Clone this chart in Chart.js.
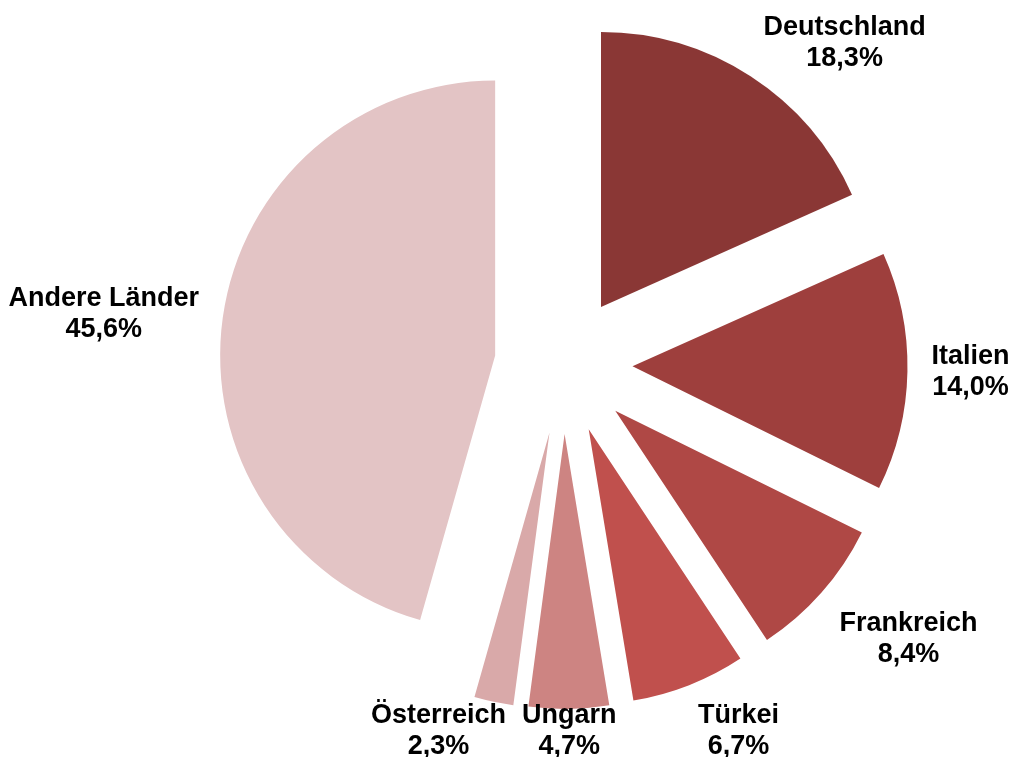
<!DOCTYPE html>
<html>
<head>
<meta charset="utf-8">
<script src="https://cdn.jsdelivr.net/npm/chart.js@4.4.0/dist/chart.umd.min.js"></script>
<style>
  body { margin: 0; background: #fff; }
  #wrap { width: 1012px; height: 757px; }
</style>
</head>
<body>
<div id="wrap"><canvas id="exportChart"></canvas></div>
<script>
var countries = ["Deutschland", "Italien", "Frankreich", "Türkei", "Ungarn", "Österreich", "Andere Länder"];
var shares = [18.3, 14.0, 8.4, 6.7, 4.7, 2.3, 45.6];
var sliceColors = ["#8a3735", "#9e3f3d", "#af4845", "#c0504d", "#cd8482", "#d9a9a9", "#e3c4c5"];

var explode = 69;      // how far every slice is pulled out
var labelFont = "bold 27px 'Liberation Sans', Arial, sans-serif";
var lineHeight = 31;
var labelGap = 24;
var minLabelSpace = 16;

function pct(v) {
    return v.toFixed(1).replace(".", ",") + "%";
}

// how far the label box is pushed to one side, with a dead zone near the axes
function side(v) {
    var s = Math.min(1, Math.max(0, (Math.abs(v) - 0.15) * 5));
    return v < 0 ? -s : s;
}

// move each arc out along its middle angle (like an exploded excel pie)
var explodePlugin = {
    id: "explode",
    beforeDatasetsDraw: function (chart) {
        var area = chart.chartArea;
        var cx = (area.left + area.right) / 2;
        var cy = (area.top + area.bottom) / 2;
        chart.getDatasetMeta(0).data.forEach(function (arc) {
            var mid = (arc.startAngle + arc.endAngle) / 2;
            arc.x = cx + Math.cos(mid) * explode;
            arc.y = cy + Math.sin(mid) * explode;
        });
    },
    afterDatasetsDraw: function (chart) {
        var ctx = chart.ctx;
        ctx.save();
        ctx.font = labelFont;
        ctx.fillStyle = "#000";
        ctx.textAlign = "center";
        ctx.textBaseline = "middle";
        var boxes = chart.getDatasetMeta(0).data.map(function (arc, i) {
            var mid = (arc.startAngle + arc.endAngle) / 2;
            var dx = Math.cos(mid), dy = Math.sin(mid);
            var lines = [countries[i], pct(shares[i])];
            var w = Math.max(ctx.measureText(lines[0]).width, ctx.measureText(lines[1]).width) / 2;
            var h = lineHeight;
            var px = arc.x + dx * arc.outerRadius;
            var py = arc.y + dy * arc.outerRadius;
            var lx = px + dx * labelGap + w * side(dx);
            var ly = py + dy * labelGap + h * side(dy);
            ly = Math.min(Math.max(ly, h + 12), chart.height - h + 5);
            return { lines: lines, x: lx, y: ly, w: w, h: h };
        });
        // keep neighbouring labels apart
        for (var i = 0; i < boxes.length - 1; i++) {
            var a = boxes[i], b = boxes[i + 1];
            if (Math.abs(a.y - b.y) < a.h + b.h) {
                var need = a.w + b.w + minLabelSpace;
                if (Math.abs(a.x - b.x) < need) {
                    b.x = b.x < a.x ? a.x - need : a.x + need;
                }
            }
        }
        boxes.forEach(function (b) {
            ctx.fillText(b.lines[0], b.x, b.y - lineHeight / 2);
            ctx.fillText(b.lines[1], b.x, b.y + lineHeight / 2);
        });
        ctx.restore();
    }
};

new Chart("exportChart", {
    type: "pie",
    data: {
        labels: countries,
        datasets: [{
            data: shares,
            backgroundColor: sliceColors,
            borderWidth: 0
        }]
    },
    options: {
        responsive: true,
        maintainAspectRatio: false,
        animation: false,
        events: [],
        layout: {
            padding: { top: 90, bottom: 117, left: 200, right: 85 }
        },
        plugins: {
            legend: { display: false },
            tooltip: { enabled: false }
        }
    },
    plugins: [explodePlugin]
});
</script>
</body>
</html>
